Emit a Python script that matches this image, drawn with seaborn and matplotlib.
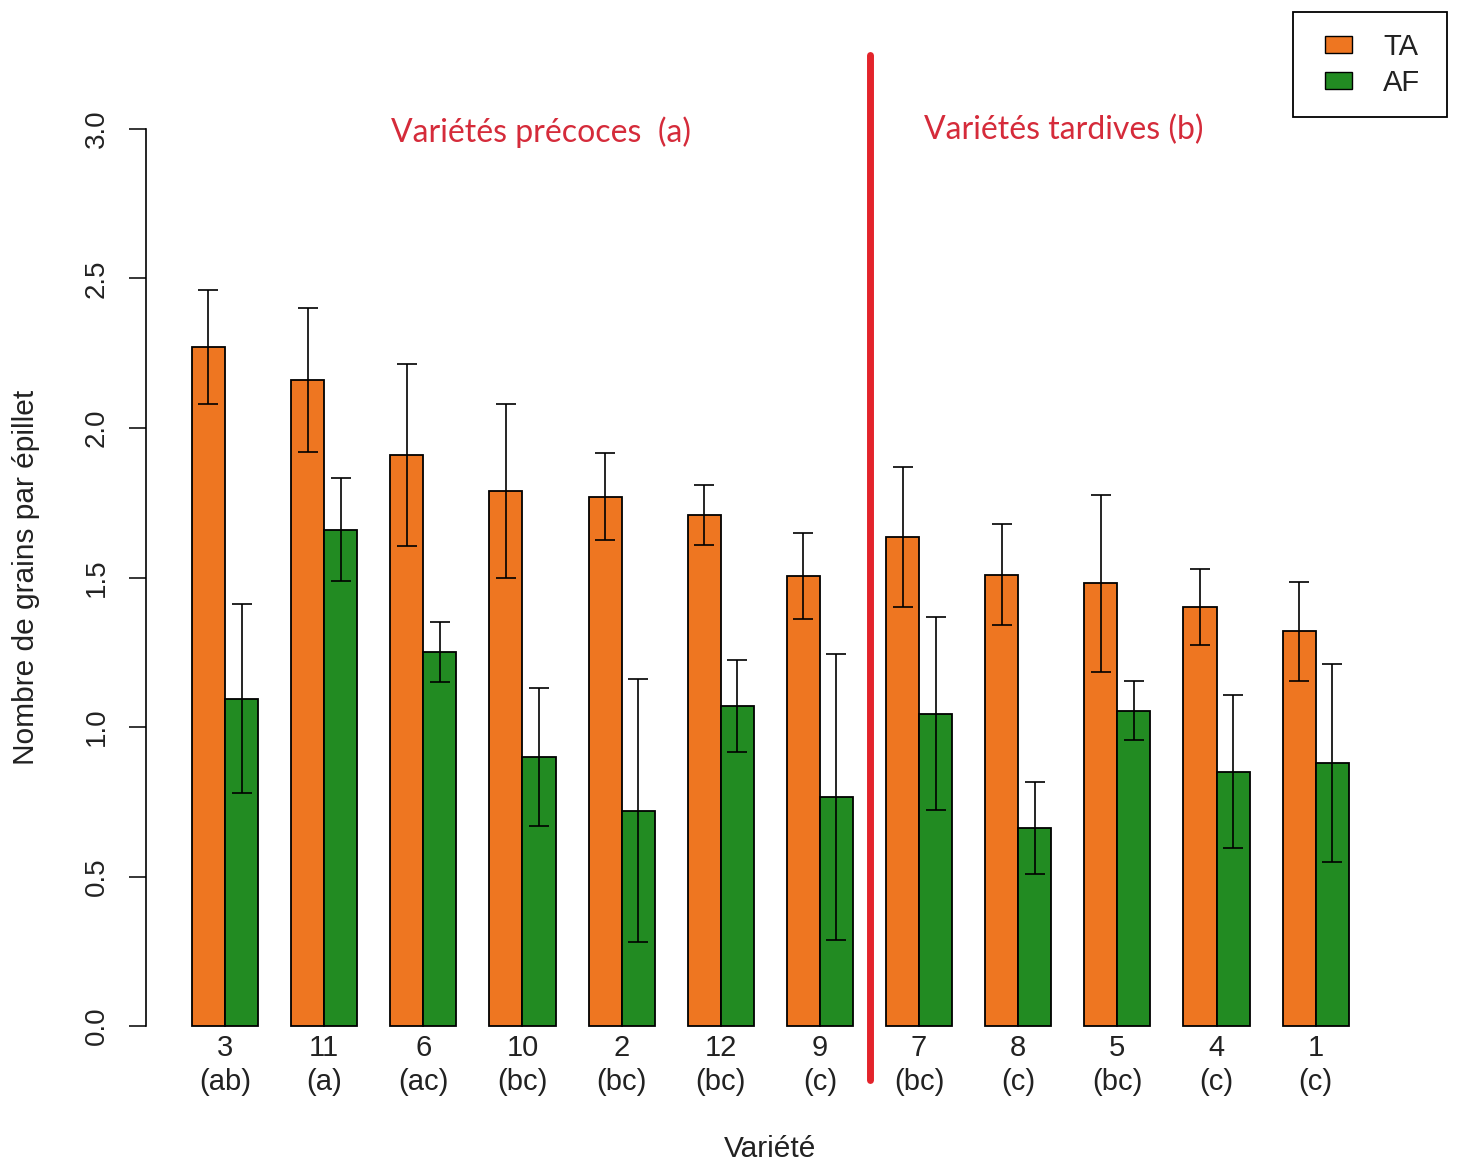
import matplotlib
matplotlib.use("Agg")
import matplotlib.pyplot as plt
import seaborn as sns
import pandas as pd
import numpy as np
from matplotlib.patches import Patch, Rectangle

# ---- data ----
varieties = ["3", "11", "6", "10", "2", "12", "9", "7", "8", "5", "4", "1"]
letters = ["(ab)", "(a)", "(ac)", "(bc)", "(bc)", "(bc)", "(c)", "(bc)", "(c)", "(bc)", "(c)", "(c)"]
ta_mean = [2.27, 2.16, 1.91, 1.79, 1.77, 1.71, 1.505, 1.635, 1.51, 1.48, 1.40, 1.32]
ta_err = [0.19, 0.24, 0.305, 0.29, 0.145, 0.10, 0.145, 0.235, 0.17, 0.295, 0.127, 0.166]
af_mean = [1.095, 1.66, 1.25, 0.90, 0.72, 1.07, 0.766, 1.045, 0.662, 1.055, 0.85, 0.88]
af_err = [0.316, 0.173, 0.10, 0.23, 0.44, 0.153, 0.478, 0.323, 0.155, 0.10, 0.256, 0.331]
treatments = ["TA", "AF"]
colors = {"TA": "#EE7621", "AF": "#228B22"}
yticks = [0.0, 0.5, 1.0, 1.5, 2.0, 2.5, 3.0]

df = pd.DataFrame({
    "Variete": varieties * 2,
    "Traitement": ["TA"] * len(varieties) + ["AF"] * len(varieties),
    "valeur": ta_mean + af_mean,
    "err": ta_err + af_err,
})

sns.set_style("white")
plt.rcParams["font.family"] = ["Liberation Sans", "DejaVu Sans"]

W, H = 1458, 1169
fig = plt.figure(figsize=(W / 100, H / 100), dpi=100)
ax_l, ax_r, ax_t, ax_b = 145.7, 1395, 93, 1062
ax = fig.add_axes([ax_l / W, 1 - ax_b / H, (ax_r - ax_l) / W, (ax_b - ax_t) / H])

sns.barplot(data=df, x="Variete", y="valeur", hue="Traitement", order=varieties,
            hue_order=treatments, palette=colors, width=2 / 3, errorbar=None,
            edgecolor="black", linewidth=1.3, saturation=1, ax=ax, legend=False)

# error bars placed on the seaborn bars
for hue_i, trt in enumerate(treatments):
    cont = ax.containers[hue_i]
    sub = df[df["Traitement"] == trt].set_index("Variete").loc[varieties]
    xs = [p.get_x() + p.get_width() / 2 for p in cont]
    ax.errorbar(xs, sub["valeur"], yerr=sub["err"], fmt="none", ecolor="black",
                elinewidth=1.2, capsize=7.2, capthick=1.2, zorder=5)

ax.set_xlim(-0.8, 11.8)
ax.set_ylim(-0.12, 3.12)

for s in ["top", "right", "bottom"]:
    ax.spines[s].set_visible(False)
ax.spines["left"].set_bounds(0, 3)
ax.spines["left"].set_linewidth(1.2)
ax.spines["left"].set_color("black")

ax.set_yticks(yticks)
ax.set_yticklabels([f"{v:.1f}" for v in yticks], rotation=90, va="center")
ax.tick_params(axis="y", length=12, width=1.1, pad=14, labelsize=20,
               labelcolor="#222222", color="black", left=True)
ax.set_xticks(range(len(varieties)))
ax.set_xticklabels([f"{v}\n{l}" for v, l in zip(varieties, letters)], linespacing=1.3)
ax.tick_params(axis="x", length=0, pad=-20.5, labelsize=21, labelcolor="#222222")

ax.set_ylabel("Nombre de grains par épillet", fontsize=21.5, color="#222222")
ax.yaxis.set_label_coords((40 - ax_l) / (ax_r - ax_l), 0.5)
ax.set_xlabel("Variété", fontsize=21.5, color="#222222", va="top")
ax.xaxis.set_label_coords(0.5, (ax_b - 1135) / (ax_b - ax_t))

# separation line between early and late varieties
ax.plot([6.5, 6.5], [-0.18, 3.247], color="#E3242B", lw=5, clip_on=False,
        solid_capstyle="round", zorder=6)

ax.text(3.19, 2.957, "Variétés précoces  (a)", color="#D52B3A", fontsize=23,
        ha="center", va="baseline", family=["Lato", "DejaVu Sans"])
ax.text(8.46, 2.967, "Variétés tardives (b)", color="#D52B3A", fontsize=23,
        ha="center", va="baseline", family=["Lato", "DejaVu Sans"])

# legend (frame drawn separately for R-like padding)
fig.patches.append(Rectangle((1293 / W, 1 - 117 / H), 154 / W, 105 / H,
                             transform=fig.transFigure, fill=False,
                             lw=1.3, ec="black"))
handles = [Patch(facecolor=colors[t], edgecolor="black", linewidth=1.0, label=t)
           for t in treatments]
leg = fig.legend(handles=handles, loc="upper left",
                 bbox_to_anchor=(1325 / W, 1 - 33 / H), fontsize=21,
                 frameon=False, handlelength=0.93, handleheight=0.55,
                 handletextpad=1.07, borderpad=0, borderaxespad=0,
                 labelspacing=0.27)
for t in leg.get_texts():
    t.set_color("#222222")

fig.savefig("out.png", dpi=100, facecolor="white")
